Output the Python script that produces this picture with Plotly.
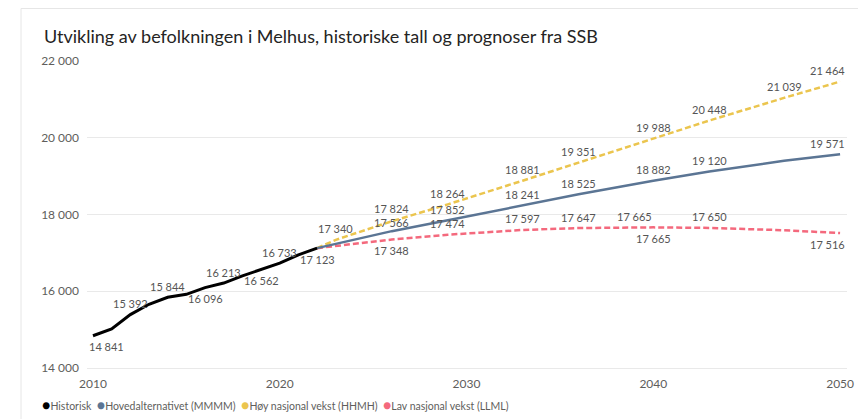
import plotly.graph_objects as go

# ---------------- data ----------------
hist_years = [2010, 2011, 2012, 2013, 2014, 2015, 2016, 2017, 2018, 2019, 2020, 2021, 2022]
hist_values = [14841, 15020, 15392, 15660, 15844, 15920, 16096, 16213, 16400, 16562, 16733, 16950, 17123]
hist_label_years = [2010, 2012, 2014, 2016, 2017, 2019, 2020, 2022]
hist_label_pos = ["below", "above", "above", "below", "above", "below", "above", "below"]

main_years = [2022, 2026, 2029, 2033, 2036, 2040, 2043, 2047, 2050]
main_values = [17123, 17566, 17852, 18241, 18525, 18882, 19120, 19400, 19571]
main_label_years = [2026, 2029, 2033, 2036, 2040, 2043, 2050]
main_label_pos = ["above"] * 7

high_years = [2022, 2023, 2026, 2029, 2033, 2036, 2040, 2043, 2047, 2050]
high_values = [17123, 17340, 17824, 18264, 18881, 19351, 19988, 20448, 21039, 21464]
high_label_years = [2023, 2026, 2029, 2033, 2036, 2040, 2043, 2047, 2050]
high_label_pos = ["above"] * 9

low_years = [2022, 2026, 2029, 2033, 2036, 2039, 2040, 2043, 2047, 2050]
low_values = [17123, 17348, 17474, 17597, 17647, 17665, 17665, 17650, 17590, 17516]
low_label_years = [2026, 2029, 2033, 2036, 2039, 2040, 2043, 2050]
low_label_pos = ["below", "above", "above", "above", "above", "below", "above", "below"]

series_names = ["Historisk", "Hovedalternativet (MMMM)", "Høy nasjonal vekst (HHMH)", "Lav nasjonal vekst (LLML)"]
series_colors = ["#000000", "#5B7594", "#EBC54E", "#F4697D"]

x_ticks = [2010, 2020, 2030, 2040, 2050]
y_ticks = [14000, 16000, 18000, 20000, 22000]

title_text = "Utvikling av befolkningen i Melhus, historiske tall og prognoser fra SSB"

FONT = "Lato"
W, H = 866, 419
OFF = 8  # page body margin offset of the browser
# desired on-screen plot box: x 87..847, y 61..368
ML = 87 - OFF
MT = 61 - OFF
MR = W - (847 - OFF)
MB = H - (368 - OFF)
PW = W - ML - MR
PH = H - MT - MB


def fmt(v):
    return f"{v:,}".replace(",", " ")


def px_x(p):
    # screen pixel -> paper x
    return (p - OFF - ML) / PW


def px_y(p):
    # screen pixel -> paper y
    return (H - MB - (p - OFF)) / PH


fig = go.Figure()

# draw order: low, high, main, historical
fig.add_trace(go.Scatter(x=low_years, y=low_values, mode="lines", name=series_names[3],
                         line=dict(color=series_colors[3], width=2.5, dash="6px,3px"),
                         showlegend=False, hoverinfo="skip"))
fig.add_trace(go.Scatter(x=high_years, y=high_values, mode="lines", name=series_names[2],
                         line=dict(color=series_colors[2], width=2.5, dash="6px,3px"),
                         showlegend=False, hoverinfo="skip"))
fig.add_trace(go.Scatter(x=main_years, y=main_values, mode="lines", name=series_names[1],
                         line=dict(color=series_colors[1], width=2.5),
                         showlegend=False, hoverinfo="skip"))
fig.add_trace(go.Scatter(x=hist_years, y=hist_values, mode="lines", name=series_names[0],
                         line=dict(color=series_colors[0], width=3),
                         showlegend=False, hoverinfo="skip"))

annotations = []

# small nudges to keep the two close labels at 2026 readable
nudge = {("high", 2026): 2, ("main", 2026): -2}


def add_labels(key, years, values, label_years, label_pos):
    lookup = dict(zip(years, values))
    for yr, pos in zip(label_years, label_pos):
        v = lookup[yr]
        xanchor = "center"
        xshift = 0
        if yr == x_ticks[-1]:
            xanchor = "right"
            xshift = 7
        elif yr == x_ticks[0]:
            xanchor = "left"
            xshift = -6
        ys = 11 if pos == "above" else -11
        ys += nudge.get((key, yr), 0)
        annotations.append(dict(
            x=yr, y=v, xref="x", yref="y", text=fmt(v), showarrow=False,
            xanchor=xanchor, xshift=xshift, yanchor="middle", yshift=ys,
            font=dict(family=FONT, size=11, color="#555555"),
        ))


add_labels("hist", hist_years, hist_values, hist_label_years, hist_label_pos)
add_labels("main", main_years, main_values, main_label_years, main_label_pos)
add_labels("high", high_years, high_values, high_label_years, high_label_pos)
add_labels("low", low_years, low_values, low_label_years, low_label_pos)

# title
annotations.append(dict(
    x=px_x(42), y=px_y(36), xref="paper", yref="paper",
    text=title_text, showarrow=False, xanchor="left", yanchor="middle",
    font=dict(family=FONT, size=18, color="#252423"),
))

# legend as text
legend_parts = []
for name, col in zip(series_names, series_colors):
    legend_parts.append(
        f"<span style='color:{col};font-size:14px'>●</span>"
        f"<span style='color:#605E5C'>{name}</span>"
    )
annotations.append(dict(
    x=px_x(40), y=px_y(404), xref="paper", yref="paper",
    text="  ".join(legend_parts), showarrow=False, xanchor="left", yanchor="middle",
    font=dict(family=FONT, size=10.5, color="#605E5C"),
))

shapes = [
    dict(type="rect", xref="paper", yref="paper", x0=px_x(863), x1=px_x(880), y0=px_y(-10), y1=px_y(440),
         fillcolor="#EEF0F3", line=dict(width=0), layer="below"),
    dict(type="rect", xref="paper", yref="paper", x0=px_x(21), x1=px_x(862.5), y0=px_y(8.5), y1=px_y(440),
         fillcolor="rgba(0,0,0,0)", line=dict(color="#E6E6E6", width=1), layer="below"),
]

fig.update_layout(
    width=W, height=H, autosize=False,
    margin=dict(l=ML, r=MR, t=MT, b=MB),
    paper_bgcolor="white", plot_bgcolor="white",
    separators=", ",
    showlegend=False,
    font=dict(family=FONT, color="#605E5C"),
    xaxis=dict(range=[2009.68, 2050.37], tickvals=x_ticks, ticktext=[str(t) for t in x_ticks],
               showgrid=False, zeroline=False, showline=True, linecolor="#E9E9E9", linewidth=1,
               ticks="", tickfont=dict(family=FONT, size=12, color="#605E5C"),
               ticklabelstandoff=5, fixedrange=True),
    yaxis=dict(range=[14000, 22000], tickvals=y_ticks, tickformat=",d",
               showgrid=True, gridcolor="#E9E9E9", gridwidth=1, zeroline=False,
               ticks="", tickfont=dict(family=FONT, size=12, color="#605E5C"),
               ticklabelstandoff=7, fixedrange=True),
    annotations=annotations,
    shapes=shapes,
)

fig.write_html("out.html")
